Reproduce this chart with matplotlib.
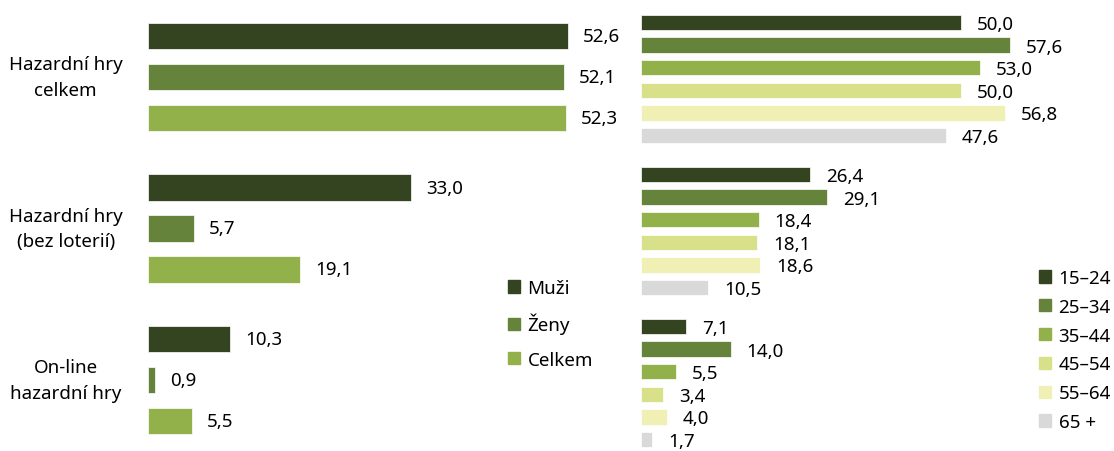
import matplotlib
matplotlib.use('Agg')
import matplotlib.pyplot as plt
from matplotlib.patches import Patch

plt.rcParams['font.family'] = ['Noto Sans', 'DejaVu Sans']
FS = 13.5

# data
categories = ["Hazardní hry\ncelkem", "Hazardní hry\n(bez loterií)", "On-line\nhazardní hry"]
sex_labels = ["Muži", "Ženy", "Celkem"]
muzi = [52.6, 33.0, 10.3]
zeny = [52.1, 5.7, 0.9]
celkem = [52.3, 19.1, 5.5]

age_labels = ["15–24", "25–34", "35–44", "45–54", "55–64", "65 +"]
age_15_24 = [50.0, 26.4, 7.1]
age_25_34 = [57.6, 29.1, 14.0]
age_35_44 = [53.0, 18.4, 5.5]
age_45_54 = [50.0, 18.1, 3.4]
age_55_64 = [56.8, 18.6, 4.0]
age_65 = [47.6, 10.5, 1.7]

sex_colors = ['#344320', '#65833B', '#93B14B']
age_colors = ['#344320', '#65833B', '#93B14B', '#D9E08A', '#F0F0B5', '#D9D9D9']

W, H = 1114, 452
fig = plt.figure(figsize=(W / 100, H / 100), dpi=100)


def fmt(v):
    return f"{v:.1f}".replace('.', ',')


# levy panel - podle pohlavi
ax1 = fig.add_axes([148 / W, 0, 479 / W, 1])
ax1.set_xlim(0, 60)
ax1.set_ylim((452 - 78) / 151.5, -78 / 151.5)
ax1.axis('off')
groups = range(len(categories))
for k, (vals, col) in enumerate(zip([muzi, zeny, celkem], sex_colors)):
    ys = [g + (k - 1) * 0.2706 for g in groups]
    ax1.barh(ys, vals, height=0.178, color=col, edgecolor='white', linewidth=0.5)
    for y, v in zip(ys, vals):
        ax1.text(v + 1.9, y, fmt(v), ha='left', va='center', fontsize=FS)
for g, cat in zip(groups, categories):
    ax1.text(-10.3, g, cat, ha='center', va='center', fontsize=FS,
             linespacing=1.55, clip_on=False)

handles1 = [Patch(color=c) for c in sex_colors]
fig.legend(handles1, sex_labels, loc='upper left',
           bbox_to_anchor=(491 / W, 1 - 263 / H), frameon=False,
           fontsize=FS, handlelength=0.65, handleheight=0.65,
           handletextpad=0.4, labelspacing=0.86)

# pravy panel - podle veku
ax2 = fig.add_axes([641 / W, 0, 448 / W, 1])
ax2.set_xlim(0, 70)
ax2.set_ylim((452 - 80) / 152, -80 / 152)
ax2.axis('off')
age_series = [age_15_24, age_25_34, age_35_44, age_45_54, age_55_64, age_65]
for k, (vals, col) in enumerate(zip(age_series, age_colors)):
    ys = [g + (k - 2.5) * 0.149 for g in groups]
    ax2.barh(ys, vals, height=0.1, color=col, edgecolor='white', linewidth=0.5)
    for y, v in zip(ys, vals):
        ax2.text(v + 2.5, y + 0.01, fmt(v), ha='left', va='center', fontsize=FS)

handles2 = [Patch(color=c) for c in age_colors]
fig.legend(handles2, age_labels, loc='upper left',
           bbox_to_anchor=(1022 / W, 1 - 253 / H), frameon=False,
           fontsize=FS, handlelength=0.65, handleheight=0.65,
           handletextpad=0.4, labelspacing=0.58)

fig.savefig('out.png', dpi=100)
